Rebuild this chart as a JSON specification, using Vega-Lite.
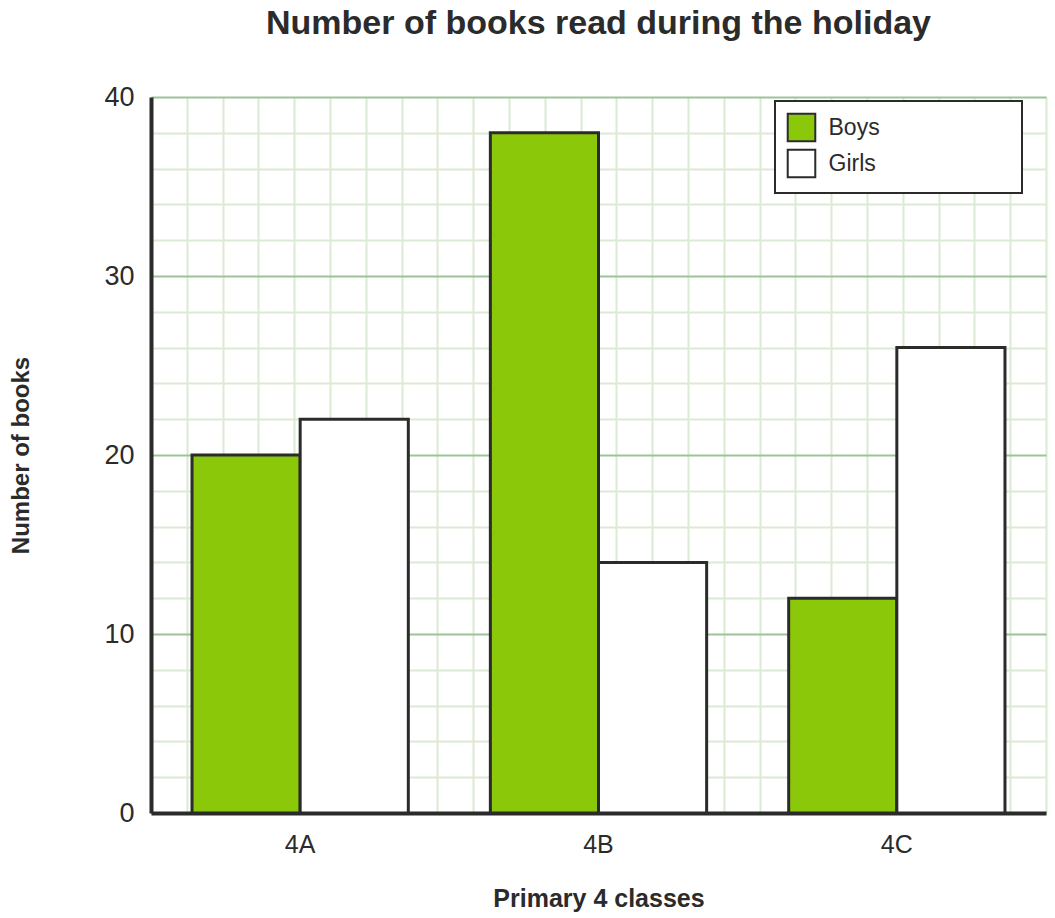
{
  "$schema": "https://vega.github.io/schema/vega-lite/v6.json",
  "width": 895,
  "height": 716,
  "autosize": "none",
  "padding": {"left": 151, "top": 97, "right": 9, "bottom": 105},
  "background": "white",
  "config": {
    "view": {"stroke": null},
    "font": "Liberation Sans",
    "axis": {"labelColor": "#2b2b2b", "titleColor": "#2b2b2b"}
  },
  "title": {
    "text": "Number of books read during the holiday",
    "fontSize": 34,
    "fontWeight": "bold",
    "color": "#2b2b2b",
    "offset": 42
  },
  "data": {
    "values": [
      {"class": "4A", "group": "Boys", "books": 20},
      {"class": "4A", "group": "Girls", "books": 22},
      {"class": "4B", "group": "Boys", "books": 38},
      {"class": "4B", "group": "Girls", "books": 14},
      {"class": "4C", "group": "Boys", "books": 12},
      {"class": "4C", "group": "Girls", "books": 26}
    ]
  },
  "layer": [
    {
      "mark": {"type": "bar", "stroke": "#2b2b2b", "strokeWidth": 3},
      "encoding": {
        "x": {
          "field": "class",
          "type": "nominal",
          "scale": {"paddingInner": 0.275, "paddingOuter": 0.1375},
          "axis": {
            "orient": "bottom",
            "title": "Primary 4 classes",
            "titleFontSize": 25,
            "titleFontWeight": "bold",
            "titlePadding": 29,
            "labelFontSize": 25,
            "labelAngle": 0,
            "labelPadding": 19,
            "ticks": false,
            "grid": false,
            "domainColor": "#2b2b2b",
            "domainWidth": 4
          }
        },
        "xOffset": {"field": "group", "type": "nominal", "sort": ["Boys", "Girls"]},
        "y": {
          "field": "books",
          "type": "quantitative",
          "scale": {"domain": [0, 40], "nice": false},
          "axis": {
            "title": "Number of books",
            "titleFontSize": 24,
            "titleFontWeight": "bold",
            "titlePadding": 70,
            "values": [0, 2, 4, 6, 8, 10, 12, 14, 16, 18, 20, 22, 24, 26, 28, 30, 32, 34, 36, 38, 40],
            "labelExpr": "datum.value % 10 === 0 ? datum.label : ''",
            "labelFontSize": 27,
            "labelPadding": 17,
            "ticks": false,
            "grid": true,
            "gridWidth": 2,
            "gridColor": {
              "condition": {"test": "datum.value % 10 === 0", "value": "#9ec39a"},
              "value": "#dbead3"
            },
            "domainColor": "#2b2b2b",
            "domainWidth": 4
          }
        },
        "fill": {
          "field": "group",
          "type": "nominal",
          "scale": {"domain": ["Boys", "Girls"], "range": ["#8cc80a", "#ffffff"]},
          "legend": {
            "orient": "none",
            "legendX": 624,
            "legendY": 4,
            "title": " ",
            "titleOrient": "right",
            "titlePadding": 131,
            "symbolType": "square",
            "symbolSize": 760,
            "symbolStrokeColor": "#2b2b2b",
            "symbolStrokeWidth": 2,
            "labelFontSize": 23,
            "labelColor": "#2b2b2b",
            "labelOffset": 12,
            "rowPadding": 0,
            "padding": 11.5,
            "fillColor": "white",
            "strokeColor": "#2b2b2b",
            "encode": {"legend": {"update": {"strokeWidth": {"value": 2}}}}
          }
        }
      }
    },
    {
      "mark": {"type": "rule", "opacity": 0},
      "encoding": {
        "x": {
          "datum": 0,
          "type": "quantitative",
          "scale": {"domain": [0, 25], "nice": false, "zero": false},
          "axis": {
            "orient": "top",
            "values": [1, 2, 3, 4, 5, 6, 7, 8, 9, 10, 11, 12, 13, 14, 15, 16, 17, 18, 19, 20, 21, 22, 23, 24, 25],
            "grid": true,
            "gridColor": "#dbead3",
            "gridWidth": 2,
            "labels": false,
            "ticks": false,
            "domain": false,
            "title": null,
            "zindex": 0
          }
        }
      }
    }
  ],
  "resolve": {"scale": {"x": "independent"}, "axis": {"x": "independent"}}
}
